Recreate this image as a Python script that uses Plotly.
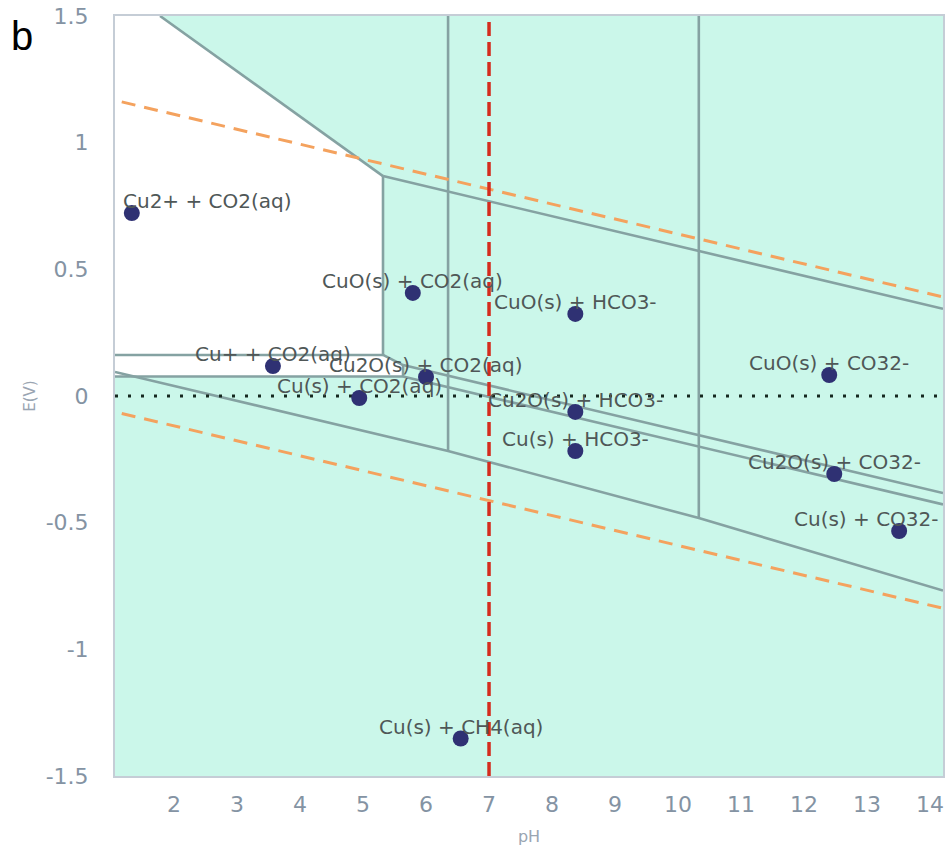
import plotly.graph_objects as go

# ---------------- data ----------------
PH_RANGE = [1.063, 14.206]
E_RANGE = [-1.5, 1.5]

# region labels (species) and their marker positions
labels = ["Cu2+ + CO2(aq)", "CuO(s) + CO2(aq)", "CuO(s) + HCO3-", "Cu+ + CO2(aq)",
          "Cu2O(s) + CO2(aq)", "Cu(s) + CO2(aq)", "Cu2O(s) + HCO3-", "Cu(s) + HCO3-",
          "CuO(s) + CO32-", "Cu2O(s) + CO32-", "Cu(s) + CO32-", "Cu(s) + CH4(aq)"]
label_ph = [1.33, 5.79, 8.37, 3.57, 6.00, 4.94, 8.37, 8.37, 12.40, 12.48, 13.51, 6.55]
label_e = [0.722, 0.407, 0.324, 0.118, 0.075, -0.008, -0.063, -0.217, 0.083, -0.308, -0.533, -1.352]

# white (aqueous copper ion) region outline
aq_ph = [1.063, 1.778, 5.317, 5.317, 5.635, 5.635, 1.063, 1.063]
aq_e = [1.5, 1.5, 0.868, 0.162, 0.122, 0.077, 0.077, 1.5]

# phase boundaries
boundaries = {
    "cu2_top":        ([1.778, 5.317], [1.5, 0.868]),
    "cuo_upper":      ([5.317, 14.206], [0.868, 0.344]),
    "cu2_cuo":        ([5.317, 5.317], [0.868, 0.162]),
    "cu2_cu1":        ([1.063, 5.317], [0.162, 0.162]),
    "cuo_cu1":        ([5.317, 5.635], [0.162, 0.122]),
    "cu1_cu2o":       ([5.635, 5.635], [0.122, 0.077]),
    "cu1_cu":         ([1.063, 5.635], [0.077, 0.077]),
    "cuo_cu2o":       ([5.635, 14.206], [0.122, -0.383]),
    "cu2o_cu":        ([5.635, 14.206], [0.077, -0.428]),
    "co2_ch4":        ([1.063, 6.35, 10.33, 14.206], [0.095, -0.217, -0.482, -0.768]),
    "co2_hco3":       ([6.35, 6.35], [1.5, -0.217]),
    "hco3_co3":       ([10.33, 10.33], [1.5, -0.482]),
}

# water stability lines
o2_ph = [1.17, 14.206]
o2_e = [1.161, 0.391]
h2_ph = [1.17, 14.206]
h2_e = [-0.069, -0.838]

# reference lines
neutral_ph = 7.0
zero_e = 0.0

x_ticks = [2, 3, 4, 5, 6, 7, 8, 9, 10, 11, 12, 13, 14]
y_ticks = [-1.5, -1, -0.5, 0, 0.5, 1, 1.5]
y_tick_text = ["-1.5", "-1", "-0.5", "0", "0.5", "1", "1.5"]

# ---------------- styles ----------------
GREEN = "#cbf7ea"
LINE = "#85a2a2"
ORANGE = "#f4a25e"
RED = "#d42c1e"
NAVY = "#2f3173"
LABEL = "#4f5757"
TICK = "#8493a3"

# label placement (anchor, x shift in px) - keeps labels inside the plot
label_anchor = ["left", "center", "center", "center", "center", "center",
                "center", "center", "center", "center", "right", "center"]
label_xshift = [-11, 0, 0, 0, 0, 0, 0, 0, 0, 0, 42, 0]

fig = go.Figure()

fig.add_trace(go.Scatter(x=aq_ph, y=aq_e, mode="lines", fill="toself",
                         fillcolor="white", line=dict(width=0), hoverinfo="skip",
                         showlegend=False))

for name, (xs, ys) in boundaries.items():
    fig.add_trace(go.Scatter(x=xs, y=ys, mode="lines",
                             line=dict(color=LINE, width=2.6),
                             hoverinfo="skip", showlegend=False))

fig.add_trace(go.Scatter(x=o2_ph, y=o2_e, mode="lines",
                         line=dict(color=ORANGE, width=3, dash="14px,9px"),
                         showlegend=False))
fig.add_trace(go.Scatter(x=h2_ph, y=h2_e, mode="lines",
                         line=dict(color=ORANGE, width=3, dash="14px,9px"),
                         showlegend=False))

fig.add_trace(go.Scatter(x=PH_RANGE, y=[zero_e, zero_e], mode="lines",
                         line=dict(color="#15281f", width=3, dash="3px,10px"),
                         showlegend=False))

fig.add_trace(go.Scatter(x=[neutral_ph, neutral_ph], y=E_RANGE, mode="lines",
                         line=dict(color=RED, width=3.5, dash="14px,6px"),
                         showlegend=False))

fig.add_trace(go.Scatter(x=label_ph, y=label_e, mode="markers",
                         marker=dict(color=NAVY, size=16), text=labels,
                         showlegend=False))

for t, xv, yv, anc, xs in zip(labels, label_ph, label_e, label_anchor, label_xshift):
    fig.add_annotation(x=xv, y=yv, text=t, showarrow=False, xanchor=anc,
                       yanchor="middle", xshift=xs, yshift=12,
                       font=dict(family="DejaVu Sans", size=20, color=LABEL))

fig.add_annotation(x=-0.112, y=0.974, xref="paper", yref="paper", text="b",
                   showarrow=False, xanchor="center", yanchor="middle",
                   font=dict(family="Liberation Sans", size=40, color="black"))

fig.update_layout(
    width=948, height=850,
    margin=dict(l=115, r=5, t=16, b=74, autoexpand=False),
    paper_bgcolor="white", plot_bgcolor=GREEN,
    hovermode=False,
    xaxis=dict(range=PH_RANGE, tickvals=x_ticks, showgrid=False, zeroline=False,
               showline=True, linecolor="#c5cdd6", linewidth=2, mirror=True,
               ticks="", ticklabelstandoff=8, ticklabeloverflow="allow",
               automargin=False,
               tickfont=dict(family="DejaVu Sans", size=22, color=TICK),
               title=dict(text="pH", font=dict(family="DejaVu Sans", size=16, color="#9aa5b2"),
                          standoff=14)),
    yaxis=dict(range=E_RANGE, tickvals=y_ticks, ticktext=y_tick_text, showgrid=False,
               zeroline=False, showline=True, linecolor="#c5cdd6", linewidth=2, mirror=True,
               ticks="", ticklabelstandoff=20, ticklabeloverflow="allow",
               automargin=False,
               tickfont=dict(family="DejaVu Sans", size=22, color=TICK),
               title=dict(text="E(V)", font=dict(family="DejaVu Sans", size=15, color="#9aa5b2"),
                          standoff=6)),
)

fig.write_html("out.html", config={"displayModeBar": False},
               post_script="document.body.style.margin='0px';document.body.style.overflow='hidden';")
